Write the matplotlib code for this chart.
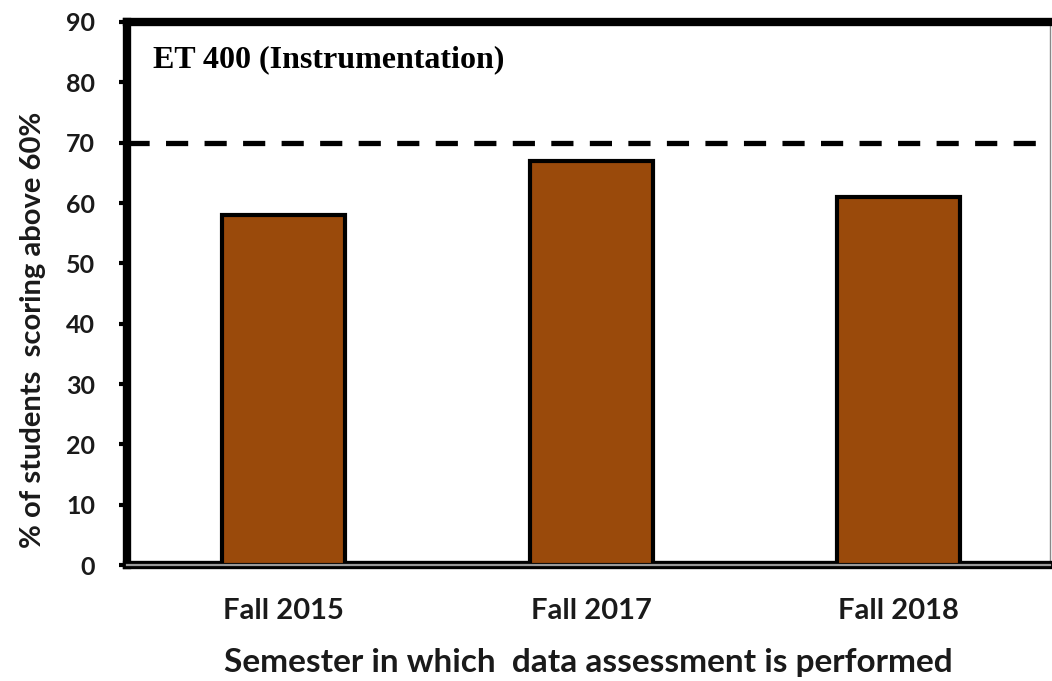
import matplotlib.pyplot as plt

semesters = ['Fall 2015', 'Fall 2017', 'Fall 2018']
pct_above_60 = [58, 67, 61]
target = 70
y_ticks = [0, 10, 20, 30, 40, 50, 60, 70, 80, 90]

plt.rcParams['font.family'] = ['Lato', 'DejaVu Sans']
plt.rcParams['font.weight'] = 'bold'

fig = plt.figure(figsize=(10.52, 6.81), dpi=100)
ax = fig.add_axes([0.1207, 0.1703, 0.877, 0.7974])

x = range(len(semesters))
ax.bar(x, pct_above_60, width=0.4, color='#9A4A0B', edgecolor='black',
       linewidth=3, zorder=3)

# target line
ax.axhline(target, color='black', linewidth=3.8, dashes=(4.2, 3.1), zorder=2)

ax.set_xlim(-0.508, 2.49)
ax.set_ylim(0, 90)
ax.set_yticks(y_ticks)
ax.set_xticks(list(x))
ax.set_xticklabels(semesters, fontsize=21, fontweight='bold', color='#1a1a1a')
ax.tick_params(axis='x', length=0, pad=24)
ax.tick_params(axis='y', labelsize=18, length=6, width=3, pad=17, direction='out',
               labelcolor='#1a1a1a')
for lab in ax.get_yticklabels():
    lab.set_fontweight('bold')

for side in ['left', 'top']:
    ax.spines[side].set_linewidth(6)
ax.spines['bottom'].set_linewidth(6)
ax.spines['right'].set_linewidth(1)
ax.spines['right'].set_color('#888888')
ax.axhline(0, color='#9a9a9a', linewidth=1.6, zorder=5, clip_on=False)

ax.set_xlabel('Semester in which  data assessment is performed', fontsize=24,
              fontweight='bold', labelpad=17, color='#1a1a1a')
ax.set_ylabel('% of students  scoring above 60%', fontsize=21, fontweight='bold',
              color='#1a1a1a')
ax.yaxis.set_label_coords(-0.088, 0.433)

ax.text(0.028, 0.93, 'ET 400 (Instrumentation)', transform=ax.transAxes,
        family='Liberation Serif', fontsize=23, fontweight='bold', va='center',
        ha='left')

fig.savefig('out.png', dpi=100)
